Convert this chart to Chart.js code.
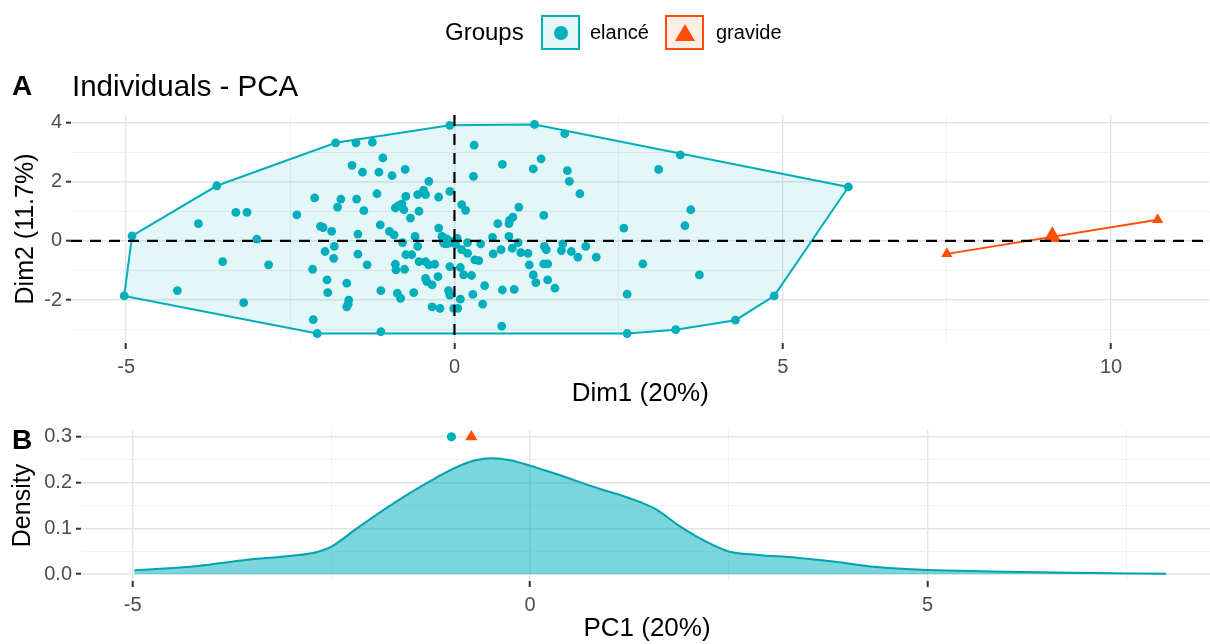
<!DOCTYPE html>
<html>
<head>
<meta charset="utf-8">
<script src="https://cdn.jsdelivr.net/npm/chart.js@4.4.1/dist/chart.umd.min.js"></script>
<style>
  body { margin: 0; background: #fff; font-family: "Liberation Sans", Arial, sans-serif; }
  #wrap { position: relative; width: 1210px; height: 644px; overflow: hidden; }
  canvas { position: absolute; left: 0; }
  #cA { top: 0; }
  #cB { top: 410px; }
  .txt { position: absolute; white-space: nowrap; line-height: 1; color: #000; z-index: 2; }
  .key { position: absolute; box-sizing: border-box; width: 39px; height: 35px; top: 15px; border: 2px solid; z-index: 2; }
  .dot { position: absolute; left: 11px; top: 9px; width: 14px; height: 14px; border-radius: 50%; background: #00AFBB; }
  .tri { position: absolute; left: 8px; top: 7px; width: 0; height: 0;
         border-left: 10px solid transparent; border-right: 10px solid transparent; border-bottom: 17px solid #FC4E07; }
</style>
</head>
<body>
<div id="wrap">
  <canvas id="cA" width="1220" height="410"></canvas>
  <canvas id="cB" width="1220" height="234"></canvas>

  <div class="txt" style="left:445px; top:20px; font-size:24px;">Groups</div>
  <div class="key" style="left:541px; border-color:#00AFBB; background:rgba(0,175,187,0.1);"><div class="dot"></div></div>
  <div class="txt" style="left:590px; top:22px; font-size:20px;">elancé</div>
  <div class="key" style="left:665px; border-color:#FC4E07; background:rgba(252,78,7,0.1);"><div class="tri"></div></div>
  <div class="txt" style="left:716px; top:22px; font-size:20px;">gravide</div>

  <div class="txt" style="left:12px; top:72px; font-size:28px; font-weight:bold;">A</div>
  <div class="txt" style="left:72px; top:71px; font-size:29.5px;">Individuals - PCA</div>
  <div class="txt" style="left:12px; top:426px; font-size:28px; font-weight:bold;">B</div>
</div>

<script>
// Groupes et couleurs
const groups = ['elancé', 'gravide'];
const groupColors = ['#00AFBB', '#FC4E07'];

// Individus (coordonnées PCA) du groupe elancé
const elanceDim1 = [
  -0.07, -1.81, -1.50, -1.25, -1.09, -1.56, -1.40, -1.15, -0.95, -0.75, -0.39, -0.07, -3.62, -2.13, -1.73,
  -1.78, -1.49, -1.38, -1.18, -0.90, -0.85, -0.80, -0.74, -0.77, -0.67, -0.54, -0.56, -0.44, -0.47, -0.24,
  -3.33, -3.16, -2.40, -3.90, -2.04, -2.00, -1.87, -1.47, -1.13, -0.99, -0.92, -0.79, -0.60, -0.56, -0.24,
  -0.19, -0.14, -0.09, -0.04, -3.01, -4.91, -1.83, -1.97, -1.84, -1.47, -1.33, -0.90, -0.89, -0.76, -0.74,
  -0.65, -0.54, -0.44, -0.39, -0.30, -0.07, -3.53, -2.83, -2.16, -1.94, -1.64, -0.44, -0.42, -0.34, -0.25,
  -0.09, -1.93, -1.12, -0.87, -0.82, -0.62, -0.07, -4.22, -5.03, -3.21, -1.61, -1.62, -1.64, -0.34, -0.22,
  -0.01, -2.15, -2.09, -1.12, 0.04, 0.02,
  1.22, 1.68, 0.30, 0.73, 1.32, 1.20, 0.29, 1.72, 1.75, 1.91, 3.44, 3.11, 6.00, 0.11, 0.17,
  0.98, 0.89, 0.84, 0.83, 1.36, 0.66, 3.60, 3.51, 2.58, 0.58, 0.83, 0.20, 0.40, 0.97, 1.37,
  1.65, 2.00, 0.11, 0.20, 0.59, 0.71, 0.88, 1.01, 1.12, 1.40, 1.63, 1.78, 1.88, 2.16, 0.31,
  0.37, 1.14, 1.36, 1.42, 2.87, 0.09, 0.14, 0.26, 1.20, 1.24, 1.42, 1.53, 3.73, 0.46, 0.09,
  0.28, 0.73, 0.91, 0.43, 0.05, 2.63, 0.72, 2.63, 3.37, 4.28, 4.87
];
const elanceDim2 = [
  3.90, 3.31, 3.31, 3.33, 2.80, 2.55, 2.32, 2.32, 2.20, 2.41, 2.01, 1.67, 1.86, 1.45, 1.41,
  1.14, 1.41, 1.02, 1.59, 1.11, 1.19, 1.25, 1.50, 1.05, 0.77, 1.00, 1.56, 1.56, 1.71, 1.48,
  0.96, 0.96, 0.88, 0.58, 0.49, 0.45, 0.32, 0.23, 0.54, 0.32, 0.20, -0.06, 0.15, -0.19, 0.43,
  0.15, 0.06, -0.08, -0.02, 0.06, 0.17, -0.19, -0.36, -0.59, -0.45, -0.81, -0.79, -0.98, -0.96, -0.47,
  -0.47, -0.70, -0.70, -0.81, -0.79, -0.87, -0.70, -0.81, -0.96, -1.32, -1.43, -1.27, -1.38, -1.49, -1.21,
  -1.68, -1.75, -1.68, -1.77, -1.94, -1.75, -1.83, -1.68, -1.86, -2.09, -2.00, -2.14, -2.23, -2.23, -2.28,
  -2.28, -2.66, -3.13, -3.07, 0.08, -0.12,
  3.93, 3.62, 3.23, 2.58, 2.77, 2.43, 2.18, 2.37, 2.01, 1.59, 2.90, 2.41, 1.82, 1.22, 1.03,
  1.14, 0.80, 0.69, 0.58, 0.86, 0.58, 1.05, 0.51, 0.43, 0.12, 0.15, -0.06, -0.10, -0.06, -0.19,
  -0.10, -0.19, -0.30, -0.42, -0.44, -0.30, -0.25, -0.40, -0.42, -0.30, -0.33, -0.36, -0.55, -0.55, -0.64,
  -0.67, -0.81, -0.78, -0.78, -0.78, -0.90, -1.15, -1.17, -1.15, -1.41, -1.32, -1.60, -1.15, -1.51, -1.97,
  -1.81, -1.66, -1.64, -2.14, -2.28, -1.80, -2.88, -3.13, -3.00, -2.68, -1.86
];

// Individus du groupe gravide
const gravideDim1 = [7.50, 10.71];
const gravideDim2 = [-0.44, 0.71];

// Densité de PC1 (panneau B)
const densityPC1 = [-4.98, -4.18, -3.58, -3.00, -2.69, -2.50, -2.18, -1.69, -1.19, -0.80, -0.49, -0.25, 0.00,
  0.31, 0.90, 1.15, 1.39, 1.60, 1.88, 2.27, 2.51, 2.86, 3.35, 3.84, 4.33, 5.00, 5.80, 6.80, 8.00];
const densityValue = [0.008, 0.018, 0.031, 0.040, 0.048, 0.060, 0.100, 0.158, 0.210, 0.243, 0.253, 0.249, 0.237,
  0.220, 0.185, 0.172, 0.157, 0.140, 0.105, 0.066, 0.049, 0.042, 0.036, 0.027, 0.016, 0.009, 0.006, 0.003, 0.001];

// Marqueurs en haut du panneau B
const markPC1 = [-0.99, -0.74];
const markDensity = [0.30, 0.30];

// Étiquettes des graduations
const xTicksA = [-5, 0, 5, 10];
const yTicksA = [-2, 0, 2, 4];
const xTicksB = [-5, 0, 5];
const yTicksB = [0, 0.1, 0.2, 0.3];

const FONT = '"Liberation Sans", Arial, sans-serif';
const toPts = (xs, ys) => xs.map((x, i) => ({ x: x, y: ys[i] }));
const isMajor = (v, list) => list.some(t => Math.abs(t - v) < 1e-6);
const mean = pts => ({
  x: pts.reduce((s, p) => s + p.x, 0) / pts.length,
  y: pts.reduce((s, p) => s + p.y, 0) / pts.length
});

// Enveloppe convexe (monotone chain)
function convexHull(pts) {
  const p = pts.slice().sort((a, b) => a.x - b.x || a.y - b.y);
  if (p.length < 3) return p;
  const cross = (o, a, b) => (a.x - o.x) * (b.y - o.y) - (a.y - o.y) * (b.x - o.x);
  const lower = [], upper = [];
  for (const q of p) {
    while (lower.length >= 2 && cross(lower[lower.length - 2], lower[lower.length - 1], q) <= 0) lower.pop();
    lower.push(q);
  }
  for (let i = p.length - 1; i >= 0; i--) {
    const q = p[i];
    while (upper.length >= 2 && cross(upper[upper.length - 2], upper[upper.length - 1], q) <= 0) upper.pop();
    upper.push(q);
  }
  upper.pop();
  lower.pop();
  const h = lower.concat(upper);
  return h.concat([h[0]]);
}

// Grille style ggplot : majeures et mineures
function gridOpts(list, tickLen) {
  return {
    color: c => isMajor(c.tick.value, list) ? '#E4E4E4' : '#F0F0F0',
    lineWidth: c => isMajor(c.tick.value, list) ? 1.4 : 1,
    tickColor: c => isMajor(c.tick.value, list) ? '#333333' : 'rgba(0,0,0,0)',
    tickLength: tickLen,
    tickWidth: 2
  };
}
function tickOpts(list, step, pad, fmt) {
  return {
    stepSize: step,
    includeBounds: false,
    autoSkip: false,
    maxRotation: 0,
    padding: pad,
    color: '#4D4D4D',
    font: { size: 20, family: FONT },
    callback: v => isMajor(v, list) ? fmt(v) : ''
  };
}

// Lignes pointillées en x = 0 et y = 0
const zeroLines = {
  id: 'zeroLines',
  afterDatasetsDraw(chart) {
    const { ctx, chartArea: a, scales: { x, y } } = chart;
    const x0 = x.getPixelForValue(0), y0 = y.getPixelForValue(0);
    ctx.save();
    ctx.strokeStyle = '#000';
    ctx.lineWidth = 2.2;
    ctx.setLineDash([11, 8]);
    ctx.beginPath(); ctx.moveTo(a.left, y0); ctx.lineTo(a.right, y0); ctx.stroke();
    ctx.beginPath(); ctx.moveTo(x0, a.top); ctx.lineTo(x0, a.bottom); ctx.stroke();
    ctx.restore();
  }
};

const elancePts = toPts(elanceDim1, elanceDim2);
const gravidePts = toPts(gravideDim1, gravideDim2);

// Panneau A : individus PCA
new Chart(document.getElementById('cA'), {
  type: 'scatter',
  data: {
    datasets: [
      { label: groups[0], data: elancePts, pointRadius: 4.4, pointBorderWidth: 0,
        pointBackgroundColor: groupColors[0], order: 1 },
      { label: groups[0] + ' moyenne', data: [mean(elancePts)], pointRadius: 7, pointBorderWidth: 0,
        pointBackgroundColor: groupColors[0], order: 0 },
      { label: groups[1], data: gravidePts, pointStyle: 'triangle', pointRadius: 6.5, pointBorderWidth: 0,
        pointBackgroundColor: groupColors[1], order: 1 },
      { label: groups[1] + ' moyenne', data: [mean(gravidePts)], pointStyle: 'triangle', pointRadius: 10.5,
        pointBorderWidth: 0, pointBackgroundColor: groupColors[1], order: 0 },
      { label: 'hull ' + groups[0], data: convexHull(elancePts), showLine: true, pointRadius: 0,
        borderColor: groupColors[0], borderWidth: 2, backgroundColor: 'rgba(0,175,187,0.11)', fill: 'shape', order: 3 },
      { label: 'hull ' + groups[1], data: convexHull(gravidePts), showLine: true, pointRadius: 0,
        borderColor: groupColors[1], borderWidth: 2, fill: false, order: 3 }
    ]
  },
  options: {
    responsive: false,
    animation: false,
    events: [],
    layout: { padding: { top: 115, left: 0, right: 0, bottom: 0 } },
    plugins: { legend: { display: false }, tooltip: { enabled: false } },
    scales: {
      x: {
        type: 'linear', min: -5.84, max: 11.5,
        afterFit(s) { s.height = 67; s.paddingLeft = 0; s.paddingRight = 0; },
        border: { display: false },
        grid: gridOpts(xTicksA, 6),
        ticks: tickOpts(xTicksA, 2.5, 6, v => String(v)),
        title: { display: true, text: 'Dim1 (20%)', color: '#000', font: { size: 26, family: FONT },
                 padding: { top: 0, bottom: 1 } }
      },
      y: {
        type: 'linear', min: -3.45, max: 4.25,
        afterFit(s) { s.width = 71; },
        border: { display: false },
        grid: gridOpts(yTicksA, 5),
        ticks: tickOpts(yTicksA, 1, 4, v => String(v)),
        title: { display: true, text: 'Dim2 (11.7%)', color: '#000', font: { size: 25, family: FONT },
                 padding: { top: 11, bottom: 0 } }
      }
    }
  },
  plugins: [zeroLines]
});

// Panneau B : densité de PC1
new Chart(document.getElementById('cB'), {
  type: 'scatter',
  data: {
    datasets: [
      { label: groups[0], data: [{ x: markPC1[0], y: markDensity[0] }], pointRadius: 4.6, pointBorderWidth: 0,
        pointBackgroundColor: groupColors[0], order: 0 },
      { label: groups[1], data: [{ x: markPC1[1], y: markDensity[1] }], pointStyle: 'triangle', pointRadius: 7,
        pointBorderWidth: 0, pointBackgroundColor: groupColors[1], order: 0 },
      { label: 'densité', data: toPts(densityPC1, densityValue), showLine: true, pointRadius: 0,
        borderColor: '#00A3AE', borderWidth: 2, backgroundColor: 'rgba(0,175,187,0.52)', fill: 'origin',
        cubicInterpolationMode: 'monotone', order: 1 }
    ]
  },
  options: {
    responsive: false,
    animation: false,
    events: [],
    layout: { padding: { top: 20, left: 0, right: 0, bottom: 0 } },
    plugins: { legend: { display: false }, tooltip: { enabled: false } },
    scales: {
      x: {
        type: 'linear', min: -5.65, max: 8.59,
        afterFit(s) { s.height = 63; s.paddingLeft = 0; s.paddingRight = 0; },
        border: { display: false },
        grid: gridOpts(xTicksB, 6),
        ticks: tickOpts(xTicksB, 2.5, 6, v => String(v)),
        title: { display: true, text: 'PC1 (20%)', color: '#000', font: { size: 26, family: FONT },
                 padding: { top: 0, bottom: 0 } }
      },
      y: {
        type: 'linear', min: -0.015, max: 0.315,
        afterFit(s) { s.width = 81; },
        border: { display: false },
        grid: gridOpts(yTicksB, 5),
        ticks: tickOpts(yTicksB, 0.05, 4, v => v.toFixed(1)),
        title: { display: true, text: 'Density', color: '#000', font: { size: 25, family: FONT },
                 padding: { top: 8, bottom: 0 } }
      }
    }
  }
});
</script>
</body>
</html>
